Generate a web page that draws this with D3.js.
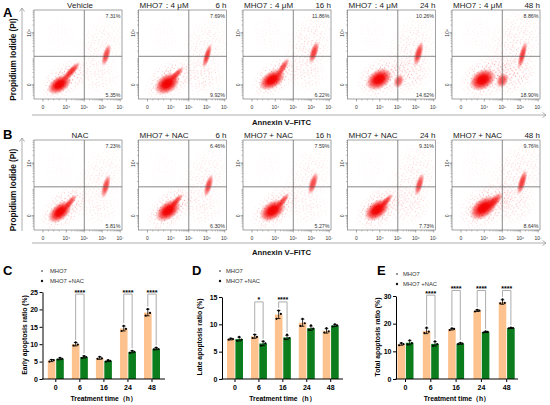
<!DOCTYPE html>
<html><head><meta charset="utf-8">
<script src="https://cdn.jsdelivr.net/npm/d3@7/dist/d3.min.js"></script>
<style>body{margin:0;background:#fff}svg{display:block;font-family:Arial,"Liberation Sans",sans-serif}</style>
</head><body><svg id="c" width="550" height="405"></svg>
<script>
// ---------------- DATA ----------------
// Flow cytometry panels (row A: MHO7 alone, row B: MHO7 + NAC)
const titlesA = ["Vehicle", "MHO7：4 μM", "MHO7：4 μM", "MHO7：4 μM", "MHO7：4 μM"];
const titlesB = ["NAC", "MHO7  + NAC", "MHO7  + NAC", "MHO7  + NAC", "MHO7  + NAC"];
const flowTimes = ["", "6 h", "16 h", "24 h", "48 h"];
const upperRightA = ["7.31%", "7.69%", "11.86%", "10.26%", "8.86%"];
const lowerRightA = ["5.35%", "9.92%", "6.22%", "14.62%", "18.90%"];
const upperRightB = ["7.23%", "6.46%", "7.59%", "9.31%", "9.76%"];
const lowerRightB = ["5.81%", "6.30%", "5.27%", "7.73%", "8.64%"];
// axis ticks: Annexin (log10 units, "0" shown on the biexponential segment) and PI
const annexinTicks = [2.7, 4, 5, 6, 7];
const annexinLabels = ["0", "10⁴", "10⁵", "10⁶", "10⁷"];
const piTicks = [2, 4];
const piLabels = ["0", "10⁴"];
const quadrantGate = [5, 3.1]; // Annexin, PI gate (log10)
// dense populations: [log Annexin, log PI, spread x, spread y, correlation, density]
const coresA = [
  [[3.62, 2.02, 0.34, 0.2, 0.45, 1], [4.25, 2.5, 0.27, 0.2, 0.85, 0.8], [6.22, 3.15, 0.14, 0.22, 0.6, 0.7]],
  [[3.8, 2.05, 0.36, 0.22, 0.35, 1], [4.3, 2.4, 0.22, 0.15, 0.8, 0.7], [6.02, 3.12, 0.14, 0.24, 0.7, 0.75]],
  [[3.82, 2.2, 0.37, 0.21, 0.45, 1], [4.4, 2.65, 0.2, 0.2, 0.8, 0.7], [6.15, 3.25, 0.15, 0.22, 0.6, 0.75]],
  [[3.95, 2.22, 0.37, 0.22, 0.35, 1], [5.05, 2.15, 0.15, 0.14, 0.2, 0.6], [6.15, 3.2, 0.15, 0.24, 0.6, 0.75]],
  [[3.9, 2.2, 0.37, 0.22, 0.3, 1], [5.0, 2.18, 0.18, 0.15, 0.2, 0.65], [6.12, 3.15, 0.14, 0.27, 0.7, 0.75]]
];
// sparse scatter regions: [log Annexin, log PI, spread x, spread y, correlation, density]
const cloudsA = [
  [[3.9, 2.2, 0.6, 0.36, 0.5, 0.9], [5.9, 3.45, 0.65, 0.55, 0.3, 0.45], [5.8, 2.3, 0.55, 0.33, 0.0, 0.3], [3.6, 3.9, 0.5, 0.4, 0, 0.15]],
  [[3.95, 2.2, 0.6, 0.36, 0.4, 0.9], [5.9, 3.45, 0.65, 0.55, 0.3, 0.45], [5.8, 2.3, 0.55, 0.33, 0.0, 0.45], [3.6, 3.9, 0.5, 0.4, 0, 0.15]],
  [[4.0, 2.3, 0.6, 0.36, 0.5, 0.9], [5.9, 3.55, 0.65, 0.6, 0.3, 0.6], [5.8, 2.4, 0.5, 0.33, 0.0, 0.35], [3.6, 3.9, 0.5, 0.4, 0, 0.2]],
  [[4.1, 2.3, 0.6, 0.36, 0.3, 0.9], [5.8, 3.45, 0.65, 0.6, 0.3, 0.55], [5.6, 2.4, 0.6, 0.35, 0.2, 0.6], [3.6, 3.9, 0.5, 0.4, 0, 0.15]],
  [[4.1, 2.3, 0.65, 0.38, 0.3, 0.9], [5.7, 3.55, 0.75, 0.65, 0.3, 0.6], [5.6, 2.4, 0.6, 0.35, 0.2, 0.7], [3.6, 3.9, 0.5, 0.4, 0, 0.2]]
];
const coresB = [
  [[3.65, 2.15, 0.34, 0.22, 0.5, 1], [4.2, 2.5, 0.2, 0.16, 0.8, 0.7], [6.2, 3.12, 0.14, 0.23, 0.6, 0.7]],
  [[3.85, 2.2, 0.36, 0.22, 0.45, 1], [4.3, 2.55, 0.2, 0.15, 0.8, 0.7], [6.1, 3.15, 0.14, 0.22, 0.6, 0.7]],
  [[3.85, 2.2, 0.37, 0.22, 0.4, 1], [4.4, 2.55, 0.2, 0.16, 0.8, 0.7], [6.1, 3.23, 0.15, 0.22, 0.6, 0.7]],
  [[3.85, 2.23, 0.36, 0.22, 0.45, 1], [4.35, 2.55, 0.2, 0.15, 0.8, 0.7], [6.2, 3.19, 0.14, 0.22, 0.6, 0.7]],
  [[3.96, 2.3, 0.4, 0.24, 0.45, 1], [4.55, 2.55, 0.25, 0.17, 0.7, 0.75], [6.1, 3.27, 0.15, 0.24, 0.65, 0.75]]
];
const cloudsB = [
  [[3.9, 2.3, 0.6, 0.38, 0.5, 0.9], [5.9, 3.45, 0.65, 0.55, 0.3, 0.45], [5.8, 2.3, 0.55, 0.33, 0.0, 0.3], [3.6, 3.9, 0.5, 0.4, 0, 0.15]],
  [[4.0, 2.3, 0.6, 0.38, 0.5, 0.9], [5.9, 3.45, 0.65, 0.55, 0.3, 0.45], [5.8, 2.3, 0.55, 0.33, 0.0, 0.35], [3.6, 3.9, 0.5, 0.4, 0, 0.15]],
  [[4.0, 2.3, 0.6, 0.38, 0.5, 0.9], [5.9, 3.5, 0.65, 0.55, 0.3, 0.45], [5.8, 2.3, 0.55, 0.33, 0.0, 0.3], [3.6, 3.9, 0.5, 0.4, 0, 0.15]],
  [[4.0, 2.3, 0.6, 0.38, 0.4, 0.9], [5.9, 3.5, 0.65, 0.6, 0.3, 0.55], [5.7, 2.4, 0.55, 0.35, 0.1, 0.45], [3.6, 3.9, 0.5, 0.4, 0, 0.15]],
  [[4.15, 2.4, 0.7, 0.4, 0.4, 0.9], [5.8, 3.55, 0.75, 0.6, 0.3, 0.6], [5.7, 2.4, 0.55, 0.35, 0.1, 0.45], [3.6, 3.9, 0.5, 0.4, 0, 0.2]]
];

// Bar charts
const timeCats = ["0", "6", "16", "24", "48"];
const seriesNames = ["MHO7", "MHO7 +NAC"];
const earlyMHO7 = [5.3, 10.0, 6.0, 14.5, 19.1];
const earlyMHO7Sd = [0.3, 0.5, 0.35, 0.7, 0.95];
const earlyMHO7Pts = [[5.0, 5.5, 5.4], [9.6, 10.5, 9.9], [5.8, 6.4, 5.9], [13.8, 15.3, 14.4], [18.2, 20.1, 19.0]];
const earlyNAC = [5.8, 6.3, 5.2, 7.8, 8.7];
const earlyNACSd = [0.25, 0.3, 0.2, 0.3, 0.3];
const earlyNACPts = [[5.6, 6.1, 5.8], [6.0, 6.6, 6.3], [5.0, 5.4, 5.2], [7.5, 8.1, 7.8], [8.5, 9.0, 8.6]];
const earlySig = ["", "****", "", "****", "****"];
const earlySigAt = [0, 24.4, 0, 24.4, 24.4];

const lateMHO7 = [7.3, 7.8, 11.8, 10.3, 8.8];
const lateMHO7Sd = [0.15, 0.35, 0.75, 0.65, 0.4];
const lateMHO7Pts = [[7.2, 7.4, 7.3], [7.5, 8.1, 7.7], [11.0, 12.5, 11.9], [9.7, 11.0, 10.2], [8.5, 9.3, 8.7]];
const lateNAC = [7.3, 6.5, 7.6, 9.3, 9.8];
const lateNACSd = [0.35, 0.4, 0.4, 0.4, 0.2];
const lateNACPts = [[7.0, 7.7, 7.2], [6.1, 6.9, 6.5], [7.3, 8.1, 7.5], [9.0, 9.8, 9.2], [9.6, 10.0, 9.8]];
const lateSig = ["", "*", "****", "", ""];
const lateSigAt = [0, 14.1, 14.1, 0, 0];

const totalMHO7 = [12.6, 17.4, 18.0, 24.7, 27.8];
const totalMHO7Sd = [0.4, 1.0, 0.3, 0.3, 0.8];
const totalMHO7Pts = [[12.2, 13.0, 12.6], [16.6, 18.6, 17.1], [17.7, 18.3, 18.1], [24.4, 25.0, 24.7], [27.3, 28.8, 27.5]];
const totalNAC = [13.1, 12.7, 12.8, 17.0, 18.4];
const totalNACSd = [0.75, 0.8, 0.25, 0.2, 0.15];
const totalNACPts = [[12.5, 14.0, 13.0], [12.0, 13.6, 12.6], [12.6, 13.1, 12.8], [16.8, 17.2, 17.0], [18.3, 18.6, 18.4]];
const totalSig = ["", "****", "****", "****", "****"];
const totalSigAt = [0, 30.3, 32.0, 32.0, 32.0];

// ---------------- DRAWING ----------------
const svg = d3.select("#c");
const defs = svg.append("defs");
const RED = "#f20000", ORANGE = "#fdc28e", GREEN = "#0b7d1c";
const FONT = "Arial,'Liberation Sans',sans-serif";

const cg = defs.append("radialGradient").attr("id", "coreG");
[[0, 1], [0.35, 0.95], [0.65, 0.55], [0.85, 0.18], [1, 0]].forEach(([o, a]) =>
  cg.append("stop").attr("offset", o).attr("stop-color", RED).attr("stop-opacity", a));
const fg = defs.append("radialGradient").attr("id", "fadeG");
[[0, "#fff"], [0.45, "#bbb"], [0.8, "#444"], [1, "#000"]].forEach(([o, c]) =>
  fg.append("stop").attr("offset", o).attr("stop-color", c));
defs.append("mask").attr("id", "fadeM").attr("maskContentUnits", "objectBoundingBox")
  .append("rect").attr("width", 1).attr("height", 1).attr("fill", "url(#fadeG)");
// irregular speckle texture (a drawing style for the scatter density)
const speck = [[1.2,0.8],[5.3,1.9],[9.7,0.5],[13.4,2.2],[3.1,4.6],[7.8,3.9],[11.6,5.3],[15.2,4.4],[0.6,7.9],[5.9,7.1],
  [9.2,8.6],[13.8,7.5],[2.7,11.2],[7.1,10.4],[11.0,12.1],[14.9,10.9],[4.4,13.3],[8.6,13.0],[12.7,9.3],[1.9,2.9],[10.3,3.1],[6.2,12.0]];
const pat = defs.append("pattern").attr("id", "spk").attr("patternUnits", "userSpaceOnUse")
  .attr("width", 16.3).attr("height", 14.1).attr("patternTransform", "rotate(23)");
speck.forEach(([x, y]) => pat.append("circle").attr("cx", x).attr("cy", y).attr("r", 0.48).attr("fill", RED));
const pat2 = defs.append("pattern").attr("id", "spk2").attr("patternUnits", "userSpaceOnUse")
  .attr("width", 13.7).attr("height", 15.9).attr("patternTransform", "rotate(-37)");
speck.forEach(([x, y]) => pat2.append("circle").attr("cx", y * 0.97).attr("cy", x * 0.98).attr("r", 0.45).attr("fill", RED));

function covEllipse(b, kx, ky) {
  const a = (b[2] * kx) ** 2, c = (b[3] * ky) ** 2, bb = -b[4] * b[2] * kx * b[3] * ky;
  const tr = (a + c) / 2, disc = Math.sqrt(((a - c) / 2) ** 2 + bb * bb);
  return { r1: Math.sqrt(tr + disc), r2: Math.sqrt(Math.max(tr - disc, 0.01)), ang: 0.5 * Math.atan2(2 * bb, a - c) * 180 / Math.PI };
}

function flowPanel(idx, left, top, w, h, title, time, ur, lr, cores, clouds) {
  const g = svg.append("g");
  const x = d3.scaleLinear().domain([2.2, 7.1]).range([left, left + w]);
  const y = d3.scaleLinear().domain([1.46, 4.88]).range([top + h, top]);
  const kx = w / 4.9, ky = h / 3.42;
  const cid = "clip" + idx;
  defs.append("clipPath").attr("id", cid).append("rect").attr("x", left).attr("y", top).attr("width", w).attr("height", h);
  const dots = g.append("g").attr("clip-path", `url(#${cid})`);
  clouds.forEach((b, k) => {
    const e = covEllipse(b, kx, ky);
    dots.append("ellipse").attr("cx", x(b[0])).attr("cy", y(b[1])).attr("rx", 2.4 * e.r1).attr("ry", 2.4 * e.r2)
      .attr("transform", `rotate(${e.ang},${x(b[0])},${y(b[1])})`)
      .attr("fill", k % 2 ? "url(#spk2)" : "url(#spk)").attr("mask", "url(#fadeM)").attr("opacity", b[5]);
  });
  cores.forEach(b => {
    const e = covEllipse(b, kx, ky);
    dots.append("ellipse").attr("cx", x(b[0])).attr("cy", y(b[1])).attr("rx", 2 * e.r1).attr("ry", 2 * e.r2)
      .attr("transform", `rotate(${e.ang},${x(b[0])},${y(b[1])})`)
      .attr("fill", "url(#coreG)").attr("opacity", b[5]);
  });
  // quadrant gate
  g.append("line").attr("x1", x(quadrantGate[0])).attr("x2", x(quadrantGate[0])).attr("y1", top).attr("y2", top + h).attr("stroke", "#555").attr("stroke-width", 0.7);
  g.append("line").attr("x1", left).attr("x2", left + w).attr("y1", y(quadrantGate[1])).attr("y2", y(quadrantGate[1])).attr("stroke", "#555").attr("stroke-width", 0.7);
  g.append("rect").attr("x", left).attr("y", top).attr("width", w).attr("height", h).attr("fill", "none").attr("stroke", "#666").attr("stroke-width", 0.6);
  // ticks
  const minorX = [3.0, 3.3, 3.6];
  for (let d = 4; d < 7; d++) for (let k = 2; k < 10; k++) minorX.push(d + Math.log10(k));
  const minorY = [];
  for (let d = 1; d < 5; d++) for (let k = 1; k < 10; k++) { const v = d + Math.log10(k); if (v > 1.5 && v < 4.85) minorY.push(v); }
  minorX.forEach(v => g.append("line").attr("x1", x(v)).attr("x2", x(v)).attr("y1", top + h).attr("y2", top + h + 1.5).attr("stroke", "#666").attr("stroke-width", 0.4));
  annexinTicks.forEach((v, i) => {
    g.append("line").attr("x1", x(v)).attr("x2", x(v)).attr("y1", top + h).attr("y2", top + h + 2.5).attr("stroke", "#555").attr("stroke-width", 0.5);
    g.append("text").attr("x", x(v)).attr("y", top + h + 9.5).attr("text-anchor", "middle").attr("font-size", 5).attr("fill", "#333").text(annexinLabels[i]);
  });
  minorY.forEach(v => g.append("line").attr("x1", left).attr("x2", left - 1.5).attr("y1", y(v)).attr("y2", y(v)).attr("stroke", "#666").attr("stroke-width", 0.4));
  piTicks.forEach((v, i) => {
    g.append("line").attr("x1", left).attr("x2", left - 2.5).attr("y1", y(v)).attr("y2", y(v)).attr("stroke", "#555").attr("stroke-width", 0.5);
    g.append("text").attr("transform", `translate(${left - 3.5},${y(v)}) rotate(-90)`).attr("text-anchor", "middle").attr("font-size", 5).attr("fill", "#333").text(piLabels[i]);
  });
  // titles
  if (time === "") {
    g.append("text").attr("x", left + w / 2 + 2).attr("y", top - 1.8).attr("text-anchor", "middle").attr("font-size", 8).attr("fill", "#222").text(title);
  } else {
    g.append("text").attr("x", left + 1).attr("y", top - 1.8).attr("font-size", 8).attr("fill", "#222").text(title);
    g.append("text").attr("x", left + w).attr("y", top - 1.8).attr("text-anchor", "end").attr("font-size", 8).attr("fill", "#222").text(time);
  }
  g.append("text").attr("x", left + w - 1.5).attr("y", top + 8).attr("text-anchor", "end").attr("font-size", 5.3).attr("fill", "#333").text(ur);
  g.append("text").attr("x", left + w - 1.5).attr("y", top + h - 2.5).attr("text-anchor", "end").attr("font-size", 5.3).attr("fill", "#333").text(lr);
}

const flowRows = [
  { top: 10, h: 89, titles: titlesA, ur: upperRightA, lr: lowerRightA, cores: coresA, clouds: cloudsA, letter: "A", letterY: 17, arrowY: 115, labelY: 125 },
  { top: 140, h: 90, titles: titlesB, ur: upperRightB, lr: lowerRightB, cores: coresB, clouds: cloudsB, letter: "B", letterY: 139, arrowY: 243, labelY: 255 }
];
flowRows.forEach((r, ri) => {
  r.titles.forEach((t, i) => flowPanel(ri * 10 + i, 34 + i * 104.5, r.top, 88, r.h, t, flowTimes[i], r.ur[i], r.lr[i], r.cores[i], r.clouds[i]));
  svg.append("text").attr("x", 3).attr("y", r.letterY).attr("font-size", 13).attr("font-weight", "bold").text(r.letter);
  const ar = svg.append("g").attr("stroke", "#9a9a9a").attr("stroke-width", 0.8).attr("fill", "none");
  ar.append("line").attr("x1", 22).attr("x2", 22).attr("y1", r.top + r.h + 1).attr("y2", r.top - 2);
  ar.append("path").attr("d", `M19.5,${r.top + 1.5}L22,${r.top - 2}L24.5,${r.top + 1.5}`);
  ar.append("line").attr("x1", 32).attr("x2", 546).attr("y1", r.arrowY).attr("y2", r.arrowY);
  ar.append("path").attr("d", `M542.5,${r.arrowY - 2.5}L546,${r.arrowY}L542.5,${r.arrowY + 2.5}`);
  svg.append("text").attr("transform", `translate(16,${r.top + r.h / 2 + 5}) rotate(-90)`).attr("text-anchor", "middle")
    .attr("font-size", 8.2).attr("font-weight", "bold").attr("fill", "#111").text("Propidium Iodide (PI)");
  svg.append("text").attr("x", 252).attr("y", r.labelY).attr("font-size", 7.7).attr("font-weight", "bold").attr("fill", "#111").text("Annexin V–FITC");
});

// ---------- bar charts ----------
function barPanel(cfg) {
  const g = svg.append("g");
  const x = d3.scalePoint().domain(timeCats).range([cfg.c0, cfg.c1]);
  const y = d3.scaleLinear().domain([0, cfg.max]).range([cfg.y0, cfg.yTop]);
  const bw = 7.6, gap = 0.8;
  const series = [
    { m: cfg.a, sd: cfg.asd, pts: cfg.apts, color: ORANGE, off: -gap / 2 - bw / 2 },
    { m: cfg.b, sd: cfg.bsd, pts: cfg.bpts, color: GREEN, off: gap / 2 + bw / 2 }
  ];
  series.forEach(s => {
    g.selectAll(null).data(s.m).enter().append("rect")
      .attr("x", (d, i) => x(timeCats[i]) + s.off - bw / 2).attr("y", d => y(d))
      .attr("width", bw).attr("height", d => y(0) - y(d)).attr("fill", s.color);
    s.m.forEach((d, i) => {
      const cx = x(timeCats[i]) + s.off;
      g.append("line").attr("x1", cx).attr("x2", cx).attr("y1", y(d - s.sd[i])).attr("y2", y(d + s.sd[i])).attr("stroke", "#000").attr("stroke-width", 0.8);
      [d - s.sd[i], d + s.sd[i]].forEach(v => g.append("line").attr("x1", cx - 1.8).attr("x2", cx + 1.8).attr("y1", y(v)).attr("y2", y(v)).attr("stroke", "#000").attr("stroke-width", 0.8));
      s.pts[i].forEach((p, j) => g.append("circle").attr("cx", cx + [-2.2, 0, 2.2][j]).attr("cy", y(p)).attr("r", 1.1).attr("fill", "#000"));
    });
  });
  // axes
  const ya = g.append("g").attr("transform", `translate(${cfg.x0},0)`)
    .call(d3.axisLeft(y).tickValues(cfg.ticks).tickSize(3).tickSizeOuter(0).tickPadding(1.5));
  ya.select(".domain").attr("stroke-width", 1);
  ya.selectAll(".tick line").attr("stroke-width", 1);
  ya.selectAll("text").attr("font-size", 7).attr("font-weight", "bold").attr("font-family", FONT);
  g.append("line").attr("x1", cfg.x0 - 0.5).attr("x2", cfg.x1).attr("y1", cfg.y0).attr("y2", cfg.y0).attr("stroke", "#000").attr("stroke-width", 1);
  timeCats.forEach(c => {
    g.append("line").attr("x1", x(c)).attr("x2", x(c)).attr("y1", cfg.y0).attr("y2", cfg.y0 + 3).attr("stroke", "#000").attr("stroke-width", 1);
    g.append("text").attr("x", x(c)).attr("y", cfg.y0 + 11).attr("text-anchor", "middle").attr("font-size", 7).attr("font-weight", "bold").text(c);
  });
  g.append("text").attr("x", (cfg.x0 + cfg.x1) / 2).attr("y", cfg.y0 + 22).attr("text-anchor", "middle").attr("font-size", 6.8).attr("font-weight", "bold").text("Treatment time（h）");
  g.append("text").attr("transform", `translate(${cfg.titleX},${cfg.titleY}) rotate(-90)`).attr("dy", "0.35em").attr("text-anchor", "middle")
    .attr("font-size", 6.8).attr("font-weight", "bold").text(cfg.title);
  // significance brackets
  cfg.sig.forEach((s, i) => {
    if (!s) return;
    const cA = x(timeCats[i]) + series[0].off, cB = x(timeCats[i]) + series[1].off;
    const topA = Math.min(y(cfg.a[i] + cfg.asd[i]), y(d3.max(cfg.apts[i]))) - 2.5;
    const topB = Math.min(y(cfg.b[i] + cfg.bsd[i]), y(d3.max(cfg.bpts[i]))) - 2.5;
    const ly = y(cfg.sigAt[i]);
    g.append("path").attr("d", `M${cA},${topA}V${ly}H${cB}V${topB}`).attr("fill", "none").attr("stroke", "#a3a3a3").attr("stroke-width", 0.9);
    g.append("text").attr("x", (cA + cB) / 2).attr("y", ly + 0.5).attr("text-anchor", "middle").attr("font-size", 7).attr("font-weight", "bold").text(s);
  });
  // legend
  seriesNames.forEach((n, i) => {
    g.append("circle").attr("cx", cfg.lx).attr("cy", cfg.ly + i * 10).attr("r", i ? 1.2 : 0.9).attr("fill", i ? "#111" : "#666");
    g.append("text").attr("x", cfg.ltx).attr("y", cfg.ly + i * 10 + 2).attr("font-size", 5.8).attr("fill", "#333").text(n);
  });
  svg.append("text").attr("x", cfg.letterX).attr("y", 275).attr("font-size", 13).attr("font-weight", "bold").text(cfg.letter);
}

barPanel({ letter: "C", letterX: 3, x0: 42.5, x1: 165, c0: 55.8, c1: 152, y0: 379, yTop: 292, max: 25, ticks: [0, 5, 10, 15, 20, 25],
  a: earlyMHO7, asd: earlyMHO7Sd, apts: earlyMHO7Pts, b: earlyNAC, bsd: earlyNACSd, bpts: earlyNACPts, sig: earlySig, sigAt: earlySigAt,
  title: "Early apoptosis ratio (%)", titleX: 24.5, titleY: 335, lx: 42, ly: 271, ltx: 50 });
barPanel({ letter: "D", letterX: 192, x0: 222, x1: 343, c0: 235, c1: 330.7, y0: 379, yTop: 297, max: 15, ticks: [0, 5, 10, 15],
  a: lateMHO7, asd: lateMHO7Sd, apts: lateMHO7Pts, b: lateNAC, bsd: lateNACSd, bpts: lateNACPts, sig: lateSig, sigAt: lateSigAt,
  title: "Late apoptosis ratio (%)", titleX: 200, titleY: 337, lx: 220, ly: 271, ltx: 226 });
barPanel({ letter: "E", letterX: 377, x0: 396, x1: 518, c0: 405.5, c1: 506.7, y0: 379, yTop: 296, max: 30, ticks: [0, 10, 20, 30],
  a: totalMHO7, asd: totalMHO7Sd, apts: totalMHO7Pts, b: totalNAC, bsd: totalNACSd, bpts: totalNACPts, sig: totalSig, sigAt: totalSigAt,
  title: "Total apoptosis ratio (%)", titleX: 378, titleY: 337, lx: 397, ly: 274, ltx: 403 });
</script></body></html>
